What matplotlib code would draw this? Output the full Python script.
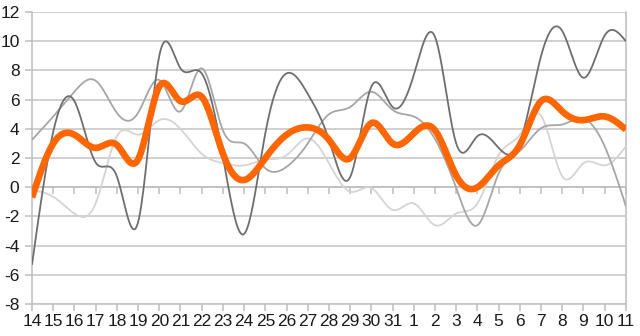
import numpy as np
import matplotlib
matplotlib.use("Agg")
import matplotlib.pyplot as plt

plt.rcParams['font.family'] = ['Liberation Sans', 'DejaVu Sans']
plt.rcParams['axes.unicode_minus'] = False

# day labels along the x axis
days = ['14', '15', '16', '17', '18', '19', '20', '21', '22', '23', '24', '25', '26', '27',
        '28', '29', '30', '31', '1', '2', '3', '4', '5', '6', '7', '8', '9', '10', '11']

# series values
dark = [-5.3, 3.8, 5.9, 1.7, 0.75, -2.4, 9.0, 8.15, 7.8, 2.1, -3.2, 3.7, 7.8, 6.4,
        3.25, 0.7, 6.9, 5.5, 7.7, 10.3, 3.0, 3.5, 2.7, 3.1, 9.0, 10.7, 7.5, 10.4, 10.0]
medium = [3.25, 4.85, 6.55, 7.3, 5.1, 5.1, 7.35, 5.2, 8.15, 3.9, 3.0, 1.3, 1.4, 3.0,
          5.0, 5.5, 6.55, 5.3, 4.85, 3.3, -0.05, -2.6, 0.95, 2.5, 4.05, 4.3, 4.7, 2.8, -1.3]
light = [-0.2, -0.65, -1.8, -1.1, 3.5, 3.6, 4.6, 4.0, 2.3, 1.65, 1.5, 1.9, 2.2, 3.35,
         1.65, -0.3, -0.05, -1.55, -1.1, -2.6, -1.8, -1.1, 2.2, 3.6, 4.9, 0.75, 1.65, 1.5, 2.8]
average = [-0.7, 3.0, 3.6, 2.7, 2.9, 1.9, 6.9, 5.9, 6.2, 2.3, 0.5, 2.0, 3.6, 4.1,
           3.25, 2.0, 4.4, 3.0, 3.7, 3.9, 0.8, 0.0, 1.5, 2.9, 5.9, 5.2, 4.6, 4.85, 3.95]


def smooth(vals, steps=20):
    # natural cubic spline through the points (unit spacing)
    y = np.asarray(vals, dtype=float)
    n = len(y)
    A = np.zeros((n, n))
    b = np.zeros(n)
    A[0, 0] = 1
    A[-1, -1] = 1
    for i in range(1, n - 1):
        A[i, i - 1] = 1
        A[i, i] = 4
        A[i, i + 1] = 1
        b[i] = 6 * (y[i + 1] - 2 * y[i] + y[i - 1])
    M = np.linalg.solve(A, b)
    xs = []
    ys = []
    for i in range(n - 1):
        t = np.linspace(0, 1, steps, endpoint=False)
        a = 1 - t
        seg = a * y[i] + t * y[i + 1] + ((a ** 3 - a) * M[i] + (t ** 3 - t) * M[i + 1]) / 6
        xs.extend(i + t)
        ys.extend(seg)
    xs.append(n - 1)
    ys.append(y[-1])
    return np.array(xs), np.array(ys)


fig = plt.figure(figsize=(6.4, 3.36), dpi=100)
ax = fig.add_axes([0.05, 0.095, 0.928, 0.869])

for vals, col, lw in [(light, '#d4d4d4', 1.3), (medium, '#a6a6a6', 1.3),
                      (dark, '#6e6e6e', 1.3), (average, '#ff6600', 4.8)]:
    xs, ys = smooth(vals)
    ax.plot(xs, ys, color=col, lw=lw, solid_capstyle='butt', zorder=3)

ax.set_xlim(0, len(days) - 1)
ax.set_ylim(-8, 12)
ax.set_yticks(range(-8, 13, 2))
ax.grid(axis='y', color='#c4c4c4', lw=1.1)
ax.set_axisbelow(True)

for s in ax.spines.values():
    s.set_color('#bdbdbd')
    s.set_linewidth(1.1)
ax.spines['top'].set_visible(False)
ax.spines['bottom'].set_position(('data', 0))

ax.set_xticks(range(len(days)))
ax.tick_params(axis='x', labelbottom=False, length=5, color='#bdbdbd', width=1.1)
ax.tick_params(axis='y', length=5, color='#bdbdbd', width=1.1, labelsize=12.5,
               labelcolor='#1a1a1a', pad=4)

sec = ax.secondary_xaxis(0)
sec.set_xticks(range(len(days)))
sec.set_xticklabels(days)
sec.tick_params(length=5, color='#bdbdbd', width=1.1, labelsize=12.5,
                labelcolor='#1a1a1a', pad=2)
sec.spines['bottom'].set_color('#bdbdbd')
sec.spines['bottom'].set_linewidth(1.1)

fig.savefig('out.png', dpi=100)
